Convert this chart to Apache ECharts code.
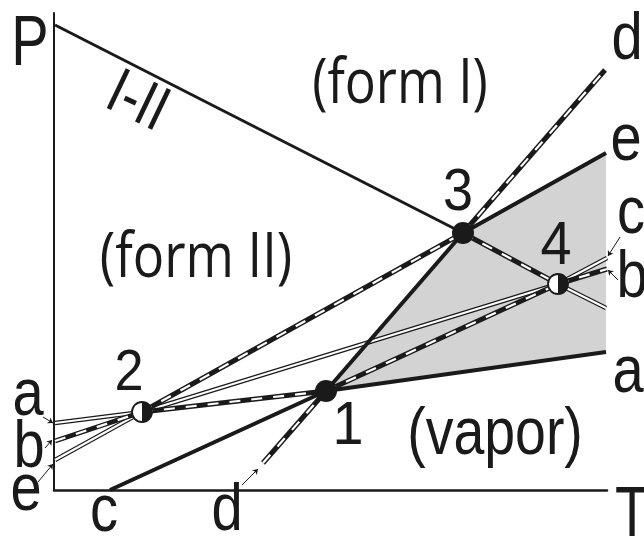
<!DOCTYPE html>
<html>
<head>
<meta charset="utf-8">
<script src="https://cdn.jsdelivr.net/npm/echarts@6/dist/echarts.min.js"></script>
<style>
  html, body { margin: 0; padding: 0; background: #fff; }
  #chart { width: 644px; height: 536px; }
</style>
</head>
<body>
<div id="chart"></div>
<script>
// Points of the diagram (T, P in arbitrary units)
var point1 = [272, 99];
var point2 = [88, 78];
var point3 = [409, 257];
var point4 = [504, 206];

// Line ends on the axes / right border
var iiStart = [1, 465];
var cBottom = [56, 0];
var dBottom = [209, 27];
var dTop = [551, 420];
var eRight = [552, 337];
var aRight = [552, 138];
var cRight = [553, 232];
var bRight = [553, 221];
var iiRight = [552, 182];
var aLeft = [1, 67];
var bLeft = [1, 49];
var eLeft = [1, 30];

// Segments by line style
var solidSegs = [[cBottom, point1], [point1, point3], [point3, eRight], [point1, aRight]];
var boundarySegs = [[iiStart, point3]];
var dashedSegs = [[dBottom, point1], [point3, dTop], [bLeft, point2], [point2, point1],
                  [point2, point3], [point1, point4], [point3, point4], [point4, bRight]];
var doubleSegs = [[aLeft, point2], [eLeft, point2], [point2, point4], [point4, cRight], [point4, iiRight]];
var greyArea = [point1, point3, eRight, aRight];

// Small arrows from the end labels
var arrows = [
	[[-11, 73], [-1, 67]],
	[[-9, 42], [-2, 50]],
	[[-16, 8], [-1, 26]],
	[[188, 5], [204, 21]],
	[[566, 253], [554, 234]],
	[[564, 210], [554, 220]]
];

var blackPoints = [point1, point3];
var halfPoints = [point2, point4];

var ink = '#1a1a1a';
var chart = echarts.init(document.getElementById('chart'));

var series = [];

// grey region
series.push({
	type: 'custom',
	silent: true,
	clip: false,
	data: [0],
	renderItem: function (params, api) {
		return {
			type: 'polygon',
			shape: { points: greyArea.map(function (p) { return api.coord(p); }) },
			style: { fill: '#d3d3d3' }
		};
	},
	z: 1
});

function seg(s, width, color, type, z) {
	return {
		type: 'line',
		data: s,
		symbol: 'none',
		silent: true,
		clip: false,
		lineStyle: { color: color, width: width, type: type || 'solid', cap: 'butt', opacity: 1 },
		z: z
	};
}

doubleSegs.forEach(function (s) {
	series.push(seg(s, 4.5, ink, 'solid', 2));
	series.push(seg(s, 2, '#fff', 'solid', 3));
});
dashedSegs.forEach(function (s) {
	series.push(seg(s, 5, ink, 'solid', 4));
	series.push(seg(s, 2.2, '#fff', [11, 11], 5));
});
solidSegs.forEach(function (s) {
	series.push(seg(s, 4, ink, 'solid', 6));
});
boundarySegs.forEach(function (s) {
	series.push(seg(s, 3, ink, 'solid', 6));
});

series.push({
	type: 'lines',
	coordinateSystem: 'cartesian2d',
	silent: true,
	clip: false,
	symbol: ['none', 'arrow'],
	symbolSize: 5,
	lineStyle: { color: ink, width: 1, opacity: 1 },
	data: arrows.map(function (a) { return { coords: a }; }),
	z: 7
});

series.push({
	type: 'scatter',
	data: blackPoints,
	symbol: 'circle',
	symbolSize: 22,
	silent: true,
	itemStyle: { color: ink, opacity: 1 },
	z: 8
});
series.push({
	type: 'scatter',
	data: halfPoints,
	symbol: 'circle',
	symbolSize: 20,
	silent: true,
	itemStyle: { color: '#fff', borderColor: ink, borderWidth: 1.8, opacity: 1 },
	z: 8
});
series.push({
	type: 'scatter',
	data: halfPoints,
	symbol: 'path://M0,0 C5.52,0 10,4.48 10,10 C10,15.52 5.52,20 0,20 Z',
	symbolSize: [10, 20],
	symbolOffset: [5, 0],
	silent: true,
	itemStyle: { color: ink, opacity: 1 },
	z: 9
});

// text labels
function txt(str, cx, base, size, family, sx, k) {
	return {
		type: 'text',
		x: cx,
		y: base - k * size,
		scaleX: sx,
		silent: true,
		z: 100,
		style: { text: str, font: size + 'px ' + family, fill: ink, align: 'center', verticalAlign: 'middle' }
	};
}
var sans = '"Liberation Sans", Arial, sans-serif';
var open = '"Open Sans", sans-serif';
var graphic = [
	txt('(form I)', 400, 108, 63, open, 0.82, 0.36),
	txt('(form II)', 196, 282, 63, open, 0.83, 0.36),
	txt('(vapor)', 495, 458, 66, sans, 0.84, 0.34),
	txt('1', 348, 448, 62, sans, 0.9, 0.34),
	txt('2', 129, 394, 58, sans, 0.9, 0.34),
	txt('3', 458, 214, 60, sans, 0.9, 0.34),
	txt('4', 556, 268, 62, sans, 0.9, 0.34),
	txt('P', 30, 70, 70, sans, 0.8, 0.34),
	txt('T', 632, 541, 70, sans, 0.8, 0.34),
	txt('a', 28, 419, 66, sans, 0.85, 0.34),
	txt('b', 29, 471, 66, sans, 0.85, 0.34),
	txt('e', 26, 514, 66, sans, 0.85, 0.34),
	txt('c', 104, 535, 66, sans, 0.85, 0.34),
	txt('d', 227, 534, 66, sans, 0.85, 0.34),
	txt('d', 627, 63, 66, sans, 0.85, 0.34),
	txt('e', 626, 164, 66, sans, 0.85, 0.34),
	txt('c', 631, 237, 66, sans, 0.85, 0.34),
	txt('b', 632, 301, 66, sans, 0.85, 0.34),
	txt('a', 628, 396, 66, sans, 0.85, 0.34),
	{
		type: 'text',
		x: 137,
		y: 103,
		scaleX: 0.8,
		rotation: -0.445,
		silent: true,
		z: 100,
		style: { text: 'I-II', font: '64px ' + sans, fill: ink, align: 'center', verticalAlign: 'middle' }
	}
];

chart.setOption({
	animation: false,
	backgroundColor: '#fff',
	grid: { left: 54, right: 37, top: 13, bottom: 46 },
	xAxis: {
		type: 'value', min: 0, max: 553,
		axisLine: { show: true, lineStyle: { color: ink, width: 2.5 } },
		axisTick: { show: false }, axisLabel: { show: false }, splitLine: { show: false }
	},
	yAxis: {
		type: 'value', min: 0, max: 477,
		axisLine: { show: true, lineStyle: { color: ink, width: 2 } },
		axisTick: { show: false }, axisLabel: { show: false }, splitLine: { show: false }
	},
	series: series,
	graphic: graphic
});
</script>
</body>
</html>
